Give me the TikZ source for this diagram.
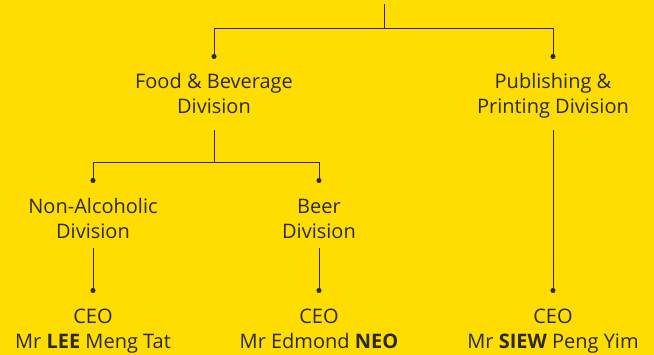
\documentclass[tikz,border=0pt]{standalone}
\usepackage{fontspec}
\setmainfont{Open Sans}
\usepackage{tikz}
\usetikzlibrary{arrows.meta}
\usepackage{xcolor}
\definecolor{chartyellow}{RGB}{255, 221, 0}
\definecolor{chartink}{RGB}{43, 42, 41}

\tikzset{
    unit/.style={text=chartink, align=center, font=\fontsize{20}{25}\selectfont, inner sep=0pt,
        execute at begin node=\strut, execute at end node=\strut},
    link/.style={draw=chartink, line width=0.9pt},
    dotlink/.style={link, -{Circle[length=5pt]}}
}

\begin{document}
\begin{tikzpicture}[x=1pt, y=-1pt]
        % background
        \fill[chartyellow] (0,0) rectangle (654,355);
        \useasboundingbox (0,0) rectangle (654,355);

        % Divisions
        \node[unit] (fb) at (214,97.5) {Food \& Beverage\\Division};
        \node[unit] (pp) at (553,97.5) {Publishing \&\\Printing Division};

        % Sub-divisions
        \node[unit] (na) at (93,222.5) {Non-Alcoholic\\Division};
        \node[unit] (beer) at (319,222.5) {Beer\\Division};

        % CEOs
        \node[unit] (ceoA) at (93,332.5) {CEO\\Mr \textbf{LEE} Meng Tat};
        \node[unit] (ceoB) at (319,332.5) {CEO\\Mr Edmond \textbf{NEO}};
        \node[unit] (ceoC) at (553,332.5) {CEO\\Mr \textbf{SIEW} Peng Yim};

        % Connector points
        \coordinate (top) at (384,4);
        \coordinate (split) at (384,28);
        \coordinate (fbsplit) at (214,162);
        \coordinate (fbin) at (214,59);
        \coordinate (ppin) at (553,59);
        \coordinate (nain) at (93,183);
        \coordinate (beerin) at (319,183);
        \foreach \c/\n in {ceoA/93, ceoB/319, ceoC/553}
            \coordinate (\c-in) at (\n,293);

        % Top level
        \draw[link] (top) -- (split);
        \draw[dotlink] (split) -| (fbin);
        \draw[dotlink] (split) -| (ppin);

        % Food & Beverage branch
        \draw[link] (fb.south |- 0,130) -- (fbsplit);
        \draw[dotlink] (fbsplit) -| (nain);
        \draw[dotlink] (fbsplit) -| (beerin);

        % Down to the CEOs
        \draw[dotlink] (na.south |- 0,248) -- (ceoA-in);
        \draw[dotlink] (beer.south |- 0,248) -- (ceoB-in);
        \draw[dotlink] (pp.south |- 0,130) -- (ceoC-in);
    \end{tikzpicture}
\end{document}
